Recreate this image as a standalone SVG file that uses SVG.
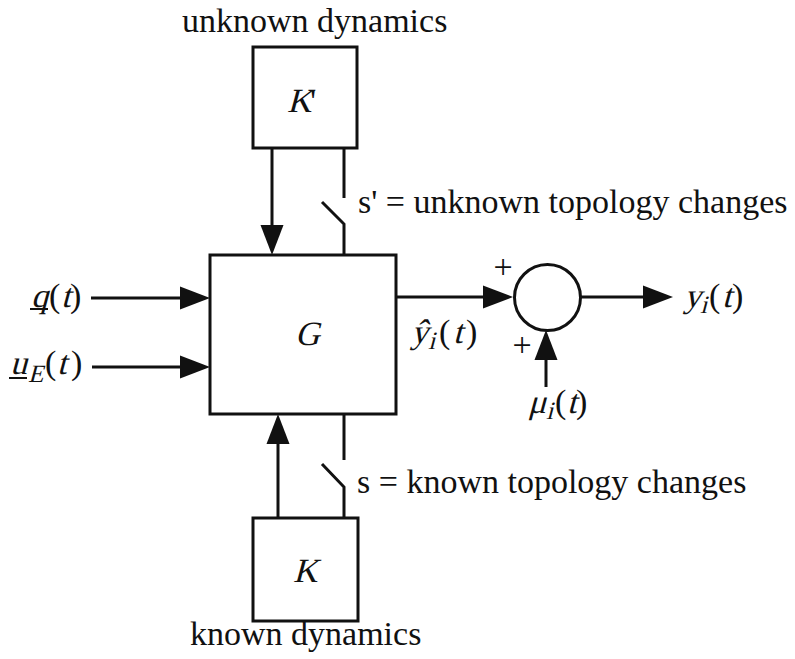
<svg xmlns="http://www.w3.org/2000/svg" width="795" height="659" viewBox="0 0 795 659">
<style>
.ln{stroke:#111;stroke-width:3;fill:none}
.bx{stroke:#111;stroke-width:3;fill:#fff}
.t{font-family:"Liberation Serif","Times New Roman",serif;font-size:34px;fill:#111}
.s{font-family:"Liberation Serif","Times New Roman",serif;font-size:25px;fill:#111}
.ul{stroke:#111;stroke-width:2}
</style>
<defs>
<marker id="ah" viewBox="0 -12 30 24" refX="25" refY="0" markerWidth="30" markerHeight="24" markerUnits="userSpaceOnUse" orient="auto">
<path d="M0,-11.5 L30,0 L0,11.5 z" fill="#111"/>
</marker>
</defs>
<rect width="795" height="659" fill="#fff"/>
<g id="connectors">
<line class="ln" x1="91" y1="298" x2="205" y2="298" marker-end="url(#ah)"/>
<line class="ln" x1="92" y1="367" x2="205" y2="367" marker-end="url(#ah)"/>
<line class="ln" x1="272" y1="148" x2="272" y2="250" marker-end="url(#ah)"/>
<path class="ln" d="M344,148 V198 M322,202 L344,224 V255"/>
<line class="ln" x1="278" y1="518" x2="278" y2="419" marker-end="url(#ah)"/>
<path class="ln" d="M344,414 V460 M322,464 L344,487 V518"/>
<line class="ln" x1="396" y1="297" x2="508" y2="297" marker-end="url(#ah)"/>
<line class="ln" x1="581" y1="297" x2="668" y2="297" marker-end="url(#ah)"/>
<line class="ln" x1="546" y1="387" x2="546" y2="335" marker-end="url(#ah)"/>
</g>
<g id="node-Kp">
<rect class="bx" x="253" y="47" width="104" height="101"/>
<text class="t" transform="translate(287,112) skewX(-15)">K</text>
<text class="t" x="310" y="112">'</text>
</g>
<g id="node-G">
<rect class="bx" x="210" y="255" width="186" height="159"/>
<text class="t" transform="translate(295,345) skewX(-15)">G</text>
</g>
<g id="node-K">
<rect class="bx" x="253" y="518" width="105" height="103"/>
<text class="t" transform="translate(293,582) skewX(-15)">K</text>
</g>
<g id="node-sum">
<circle class="ln" cx="547.5" cy="297.5" r="33"/>
<text class="t" x="503" y="278" text-anchor="middle" font-size="30">+</text>
<text class="t" x="522" y="356" text-anchor="middle" font-size="30">+</text>
</g>
<g id="labels">
<text class="t" x="182" y="32">unknown dynamics</text>
<text class="t" x="190" y="645">known dynamics</text>
<text class="t" x="358" y="213">s' = unknown topology changes</text>
<text class="t" x="357" y="493">s = known topology changes</text>
<!-- q(t) -->
<text class="t" transform="translate(31,307) skewX(-15)">q</text>
<text class="t" x="49" y="307">(</text>
<text class="t" transform="translate(61,307) skewX(-15)">t</text>
<text class="t" x="70" y="307">)</text>
<line class="ul" x1="30" y1="309" x2="48" y2="309"/>
<!-- u_E(t) -->
<text class="t" transform="translate(10,374) skewX(-15)">u</text>
<text class="s" transform="translate(28,382) skewX(-15)">E</text>
<text class="t" x="45" y="374">(</text>
<text class="t" transform="translate(57,374) skewX(-15)">t</text>
<text class="t" x="71" y="374">)</text>
<line class="ul" x1="9" y1="378" x2="27" y2="378"/>
<!-- y_i(t) -->
<text class="t" transform="translate(684,307) skewX(-15)">y</text>
<text class="s" transform="translate(700,313) skewX(-15)">i</text>
<text class="t" x="709" y="307">(</text>
<text class="t" transform="translate(722,307) skewX(-15)">t</text>
<text class="t" x="732" y="307">)</text>
<!-- yhat_i(t) -->
<text class="t" transform="translate(411,343) skewX(-15)">ŷ</text>
<text class="s" transform="translate(428,349) skewX(-15)">i</text>
<text class="t" x="439" y="343">(</text>
<text class="t" transform="translate(453,343) skewX(-15)">t</text>
<text class="t" x="466" y="343">)</text>
<!-- mu_i(t) -->
<text class="t" transform="translate(528,413) skewX(-15)">μ</text>
<text class="s" transform="translate(546,419) skewX(-15)">i</text>
<text class="t" x="555" y="413">(</text>
<text class="t" transform="translate(567,413) skewX(-15)">t</text>
<text class="t" x="576" y="413">)</text>
</g>
</svg>
